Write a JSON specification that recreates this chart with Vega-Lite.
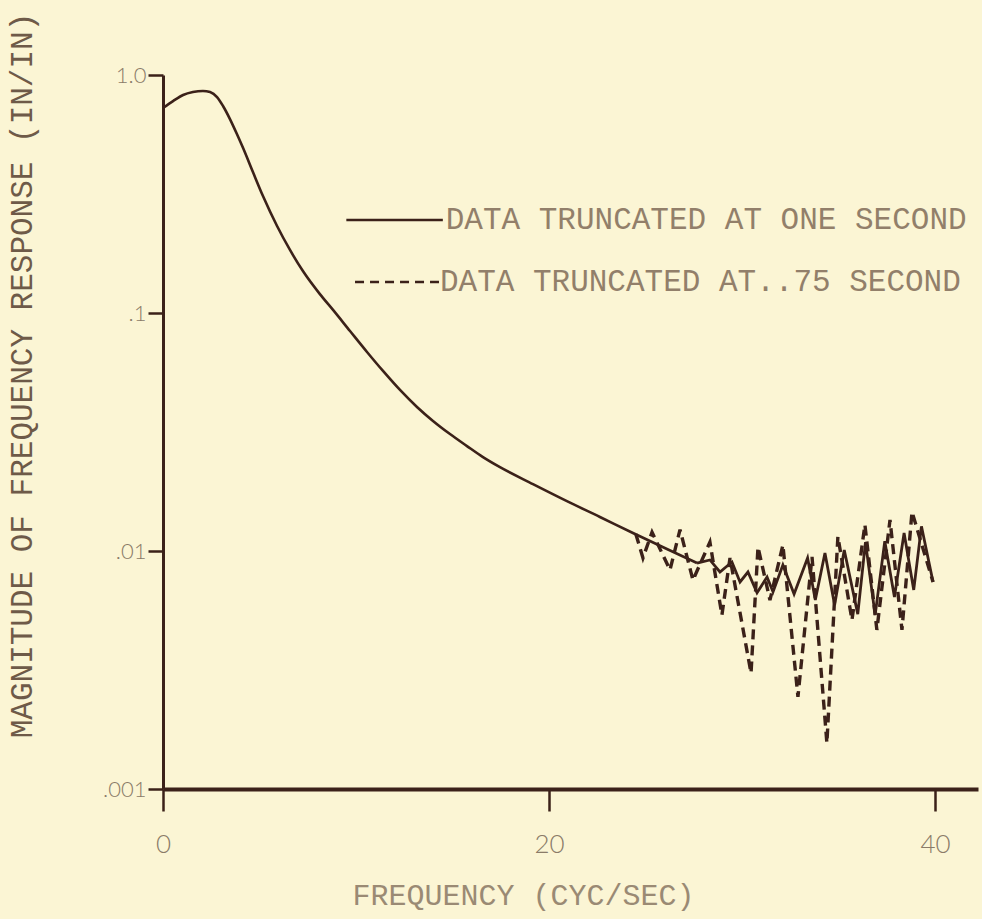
{
  "$schema": "https://vega.github.io/schema/vega-lite/v6.json",
  "width": 815,
  "height": 714,
  "autosize": {"type": "none"},
  "padding": {"left": 163, "top": 75, "right": 4, "bottom": 130},
  "background": "#fbf5d4",
  "config": {"view": {"stroke": null}},
  "datasets": {
    "one_second": [
      {"f": 0, "m": 0.727}, {"f": 0.52, "m": 0.777}, {"f": 1.04, "m": 0.824}, {"f": 1.55, "m": 0.848},
      {"f": 2.07, "m": 0.857}, {"f": 2.44, "m": 0.848}, {"f": 2.8, "m": 0.808}, {"f": 3.11, "m": 0.741},
      {"f": 3.47, "m": 0.653}, {"f": 3.83, "m": 0.565}, {"f": 4.15, "m": 0.493}, {"f": 4.66, "m": 0.391},
      {"f": 5.18, "m": 0.31}, {"f": 5.91, "m": 0.232}, {"f": 6.58, "m": 0.184}, {"f": 7.25, "m": 0.15},
      {"f": 8.13, "m": 0.12}, {"f": 8.81, "m": 0.103}, {"f": 9.69, "m": 0.084}, {"f": 10.57, "m": 0.0686},
      {"f": 11.4, "m": 0.0571}, {"f": 12.28, "m": 0.0475}, {"f": 13.16, "m": 0.0403}, {"f": 13.99, "m": 0.0352},
      {"f": 14.87, "m": 0.031}, {"f": 15.75, "m": 0.0276}, {"f": 16.58, "m": 0.0248}, {"f": 17.46, "m": 0.0225},
      {"f": 19.17, "m": 0.0191}, {"f": 20.93, "m": 0.0162}, {"f": 22.64, "m": 0.0139}, {"f": 24.35, "m": 0.0119},
      {"f": 26.11, "m": 0.0102}, {"f": 27.67, "m": 0.0089},
      {"f": 28.34, "m": 0.00917}, {"f": 28.86, "m": 0.00816}, {"f": 29.48, "m": 0.00899}, {"f": 29.9, "m": 0.00741},
      {"f": 30.31, "m": 0.00816}, {"f": 30.78, "m": 0.00667}, {"f": 31.3, "m": 0.00778}, {"f": 31.61, "m": 0.00673},
      {"f": 32.12, "m": 0.00873}, {"f": 32.7, "m": 0.00659}, {"f": 33.4, "m": 0.00935}, {"f": 33.8, "m": 0.00622},
      {"f": 34.3, "m": 0.00981}, {"f": 34.8, "m": 0.00593}, {"f": 35.3, "m": 0.0101}, {"f": 36.0, "m": 0.00543},
      {"f": 36.4, "m": 0.0109}, {"f": 36.9, "m": 0.00538}, {"f": 37.4, "m": 0.011}, {"f": 37.9, "m": 0.00641},
      {"f": 38.4, "m": 0.0119}, {"f": 38.9, "m": 0.00686}, {"f": 39.3, "m": 0.0127}, {"f": 39.9, "m": 0.00741}
    ],
    "p75_second": [
      {"f": 24.5, "m": 0.0118}, {"f": 24.87, "m": 0.00935}, {"f": 25.34, "m": 0.012}, {"f": 26.27, "m": 0.00832},
      {"f": 26.79, "m": 0.0123}, {"f": 27.46, "m": 0.00755}, {"f": 28.34, "m": 0.0109}, {"f": 28.96, "m": 0.00538},
      {"f": 29.38, "m": 0.00935}, {"f": 30.47, "m": 0.00307}, {"f": 30.83, "m": 0.0104}, {"f": 31.45, "m": 0.00622},
      {"f": 32.12, "m": 0.0106}, {"f": 32.9, "m": 0.00244}, {"f": 33.63, "m": 0.00944}, {"f": 34.4, "m": 0.00156},
      {"f": 34.97, "m": 0.0115}, {"f": 35.7, "m": 0.00513}, {"f": 36.37, "m": 0.0129}, {"f": 36.99, "m": 0.00466},
      {"f": 37.67, "m": 0.0135}, {"f": 38.29, "m": 0.00466}, {"f": 38.81, "m": 0.0146}, {"f": 39.9, "m": 0.00741}
    ],
    "key": [
      {"row": "one", "x1": 9.5, "x2": 14.5, "y": 0.246, "tx": 14.65, "label": "DATA TRUNCATED AT ONE SECOND"},
      {"row": "p75", "x1": 9.95, "x2": 14.3, "y": 0.135, "tx": 14.35, "label": "DATA TRUNCATED AT..75 SECOND"}
    ]
  },
  "layer": [
    {
      "data": {"name": "one_second"},
      "transform": [{"filter": "datum.f <= 27.67"}],
      "mark": {"type": "line", "interpolate": "monotone", "stroke": "#3b2119", "strokeWidth": 2.6},
      "encoding": {
        "x": {
          "field": "f", "type": "quantitative",
          "scale": {"domain": [0, 42.23], "nice": false, "zero": false},
          "axis": {
            "values": [0, 20, 40],
            "title": "FREQUENCY (CYC/SEC)",
            "titleFont": "Liberation Mono", "titleFontSize": 30, "titleFontWeight": "normal",
            "titleColor": "#9a8a74", "titleX": 360, "titleY": 106, "titleAlign": "center", "titleBaseline": "middle",
            "domainColor": "#3b2119", "domainWidth": 4,
            "tickColor": "#3b2119", "tickWidth": 2.5, "tickSize": 22,
            "labelFont": "Lato", "labelFontWeight": 300, "labelFontSize": 26, "labelColor": "#8a7b68",
            "labelPadding": 20, "labelFlush": false, "grid": false
          }
        },
        "y": {
          "field": "m", "type": "quantitative",
          "scale": {"type": "log", "domain": [0.001, 1], "nice": false},
          "axis": {
            "values": [0.001, 0.01, 0.1, 1],
            "labelExpr": "datum.value >= 1 ? '1.0' : datum.value >= 0.1 ? '.1' : datum.value >= 0.01 ? '.01' : '.001'",
            "title": "MAGNITUDE OF FREQUENCY RESPONSE (IN/IN)",
            "titleFont": "Liberation Mono", "titleFontSize": 31, "titleFontWeight": "normal",
            "titleColor": "#6e5a48", "titleX": -141, "titleY": 300, "titleAngle": -90,
            "titleAlign": "center", "titleBaseline": "middle",
            "domainColor": "#3b2119", "domainWidth": 3,
            "tickColor": "#3b2119", "tickWidth": 2.5, "tickSize": 15,
            "labelFont": "Lato", "labelFontWeight": 300, "labelFontSize": 22, "labelColor": "#8a7b68",
            "labelPadding": 2, "labelFlush": false, "grid": false
          }
        }
      }
    },
    {
      "data": {"name": "one_second"},
      "transform": [{"filter": "datum.f >= 27.67"}],
      "mark": {"type": "line", "interpolate": "linear", "stroke": "#3b2119", "strokeWidth": 2.8, "strokeJoin": "miter"},
      "encoding": {
        "x": {"field": "f", "type": "quantitative"},
        "y": {"field": "m", "type": "quantitative"}
      }
    },
    {
      "data": {"name": "p75_second"},
      "mark": {"type": "line", "interpolate": "linear", "stroke": "#3b2119", "strokeWidth": 3.4, "strokeDash": [10, 6]},
      "encoding": {
        "x": {"field": "f", "type": "quantitative"},
        "y": {"field": "m", "type": "quantitative"}
      }
    },
    {
      "data": {"name": "key"},
      "transform": [{"filter": "datum.row === 'one'"}],
      "mark": {"type": "rule", "stroke": "#3b2119", "strokeWidth": 2.6},
      "encoding": {
        "x": {"field": "x1", "type": "quantitative"},
        "x2": {"field": "x2"},
        "y": {"field": "y", "type": "quantitative"}
      }
    },
    {
      "data": {"name": "key"},
      "transform": [{"filter": "datum.row === 'p75'"}],
      "mark": {"type": "rule", "stroke": "#3b2119", "strokeWidth": 2.6, "strokeDash": [9, 6]},
      "encoding": {
        "x": {"field": "x1", "type": "quantitative"},
        "x2": {"field": "x2"},
        "y": {"field": "y", "type": "quantitative"}
      }
    },
    {
      "data": {"name": "key"},
      "mark": {"type": "text", "align": "left", "baseline": "middle", "font": "Liberation Mono", "fontSize": 31, "fill": "#927f6a"},
      "encoding": {
        "x": {"field": "tx", "type": "quantitative"},
        "y": {"field": "y", "type": "quantitative"},
        "text": {"field": "label"}
      }
    }
  ]
}
